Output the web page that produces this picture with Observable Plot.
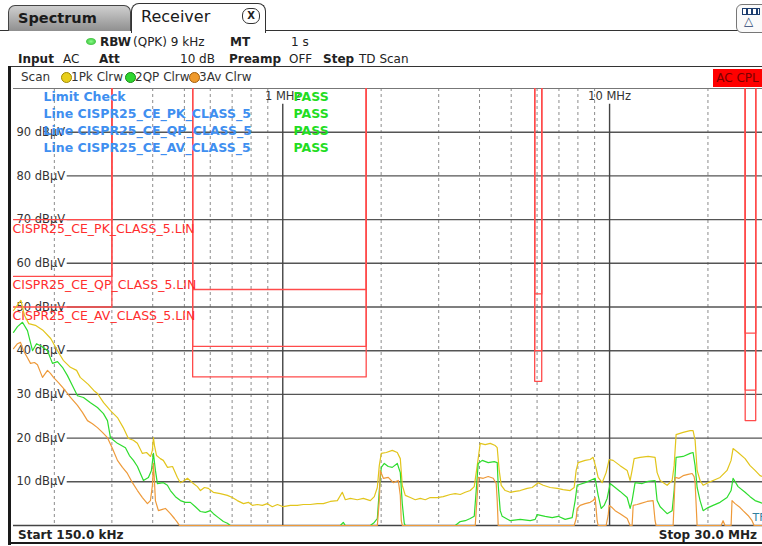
<!DOCTYPE html>
<html><head><meta charset="utf-8">
<script src="https://cdn.jsdelivr.net/npm/d3@7"></script>
<script src="https://cdn.jsdelivr.net/npm/@observablehq/plot@0.6"></script>
<style>
html,body{margin:0;padding:0;background:#fff;}
#wrap{position:relative;width:762px;height:546px;overflow:hidden;font-family:"DejaVu Sans",Verdana,sans-serif;color:#222;background:#fff;}
#chart{position:absolute;left:0;top:0;}
.a{position:absolute;white-space:nowrap;font-size:12px;line-height:14px;}
.b{font-weight:bold;}
.dot{position:absolute;width:9px;height:9px;border-radius:50%;}
</style></head><body>
<div id="wrap">
<div id="chart"></div>
<!-- tab bar -->
<div style="position:absolute;left:0;top:30px;width:762px;height:0;border-top:1.5px solid #333;"></div>
<div style="position:absolute;left:8px;top:5px;width:121px;height:25px;border:1px solid #444;border-bottom:none;border-radius:7px 7px 0 0;background:linear-gradient(#cfcfcf,#8f8f8f);"></div>
<div class="a b" style="left:18px;top:9px;font-size:14.5px;line-height:18px;color:#1a1a1a;">Spectrum</div>
<div style="position:absolute;left:131px;top:3px;width:133px;height:29px;border:1.5px solid #333;border-bottom:none;border-radius:8px 8px 0 0;background:#fff;"></div>
<div class="a" style="left:141px;top:7px;font-size:16px;line-height:20px;color:#1a1a1a;">Receiver</div>
<div style="position:absolute;left:242px;top:8px;width:16px;height:14px;border:1px solid #333;border-radius:7px;font-size:10px;line-height:14px;text-align:center;font-weight:bold;">X</div>
<div style="position:absolute;left:736px;top:4px;width:30px;height:27px;border:1px solid #777;border-radius:6px 0 0 6px;background:#fafafa;"></div>
<div style="position:absolute;left:742px;top:8px;width:16px;height:5px;border:1.5px solid #1c3d6e;background:repeating-linear-gradient(90deg,#fff 0 3px,#1c3d6e 3px 5px);"></div>
<div class="a" style="left:744px;top:14px;font-size:12px;color:#1c3d6e;">△</div>
<!-- info rows -->
<div style="position:absolute;left:86px;top:38px;width:10px;height:7px;border-radius:50%;background:radial-gradient(#8f8,#2a2);"></div>
<div class="a b" style="left:100px;top:35px;">RBW</div>
<div class="a" style="left:133px;top:35px;">(QPK) 9 kHz</div>
<div class="a b" style="left:230px;top:35px;">MT</div>
<div class="a" style="left:291px;top:35px;">1 s</div>
<div class="a b" style="left:18px;top:52px;">Input</div>
<div class="a" style="left:63px;top:52px;">AC</div>
<div class="a b" style="left:99px;top:52px;">Att</div>
<div class="a" style="left:180px;top:52px;">10 dB</div>
<div class="a b" style="left:229px;top:52px;">Preamp</div>
<div class="a" style="left:289px;top:52px;">OFF</div>
<div class="a b" style="left:323px;top:52px;">Step</div>
<div class="a" style="left:359px;top:52px;">TD Scan</div>
<div style="position:absolute;left:8px;top:66px;width:754px;height:0;border-top:1.5px solid #333;"></div>
<!-- scan row -->
<div class="a" style="left:21px;top:70px;color:#333;">Scan</div>
<div class="dot" style="left:61px;top:72px;background:#e8cf1c;border:1px solid #a08a00;"></div>
<div class="a" style="left:71px;top:70px;color:#333;">1Pk Clrw</div>
<div class="dot" style="left:125px;top:72px;background:#2fd62f;border:1px solid #178a17;"></div>
<div class="a" style="left:135px;top:70px;color:#333;">2QP Clrw</div>
<div class="dot" style="left:189px;top:72px;background:#ef9a2c;border:1px solid #a45e0c;"></div>
<div class="a" style="left:199px;top:70px;color:#333;">3Av Clrw</div>
<div class="a" style="left:713px;top:69px;width:49px;height:18px;line-height:18px;background:#ff0000;color:#7a0000;text-align:center;">AC CPL</div>
<!-- frame -->
<div style="position:absolute;left:8px;top:66px;width:3px;height:479px;background:#1a1a1a;"></div>
<div style="position:absolute;left:8px;top:542px;width:754px;height:2px;background:#1a1a1a;"></div>
<div class="a b" style="left:18px;top:528px;">Start 150.0 kHz</div>
<div class="a b" style="right:5px;top:528px;">Stop 30.0 MHz</div>
</div>
<script>
// ---- data ----
const freqTicks = [0.2,0.3,0.4,0.5,0.6,0.7,0.8,0.9,2,3,4,5,6,7,8,9,20];
const decadeTicks = [1,10];
const decadeLabels = ["1 MHz","10 MHz"];
const levelTicks = [10,20,30,40,50,60,70,80,90];

const bandStart = [0.15,0.53,5.9,26];
const bandEnd   = [0.3,1.8,6.2,28];
const pkLimit = [70,54,53,44];
const qpLimit = [57,41,40,31];
const avLimit = [50,34,33,24];
const limitFiles = ["CISPR25_CE_PK_CLASS_5.LIN","CISPR25_CE_QP_CLASS_5.LIN","CISPR25_CE_AV_CLASS_5.LIN"];
const checkLabels = ["Limit Check","Line CISPR25_CE_PK_CLASS_5","Line CISPR25_CE_QP_CLASS_5","Line CISPR25_CE_AV_CLASS_5"];
const checkResults = ["PASS","PASS","PASS","PASS"];

const pkFreq = [0.150,0.158,0.162,0.167,0.175,0.185,0.195,0.2045,0.213,0.224,0.234,0.240,0.254,0.264,0.271,0.283,0.297,0.312,0.325,0.337,0.349,0.359,0.372,0.383,0.394,0.399,0.402,0.405,0.411,0.422,0.431,0.444,0.460,0.476,0.486,0.500,0.511,0.529,0.548,0.560,0.576,0.592,0.613,0.644,0.677,0.701,0.726,0.758,0.785,0.807,0.836,0.866,0.897,0.929,0.963,1.004,1.055,1.108,1.156,1.214,1.276,1.331,1.398,1.469,1.521,1.554,1.610,1.691,1.764,1.853,1.906,1.947,1.974,2.002,2.074,2.163,2.241,2.289,2.321,2.371,2.456,2.544,2.635,2.729,2.827,2.970,3.098,3.255,3.371,3.492,3.617,3.747,3.854,3.936,4.020,4.164,4.313,4.468,4.531,4.595,4.661,4.794,4.965,5.143,5.328,5.597,5.797,6.047,6.264,6.581,6.913,7.211,7.576,7.792,7.903,8.015,8.420,8.721,8.907,9.098,9.227,9.490,9.761,9.970,10.25,10.77,11.32,11.56,11.72,11.89,12.40,13.12,13.78,13.98,14.28,15.00,15.54,15.76,15.98,16.79,17.64,18.01,18.27,18.53,18.92,19.33,20.02,20.74,21.78,22.88,23.54,23.87,24.73,25.98,26.91,27.87,28.87,29.91];
const pkLevel = [49.2,51.5,48.1,46.2,45.8,44.6,42.8,40.0,37.8,36.2,35.5,33.9,32.3,30.9,30.2,28.1,26.3,24.7,22.4,19.9,19.5,18.8,16.5,16.7,15.8,17.2,20.1,18.3,16.0,15.3,14.9,13.3,13.5,11.0,9.8,10.3,10.8,9.8,8.9,8.0,8.7,8.5,7.6,7.3,6.9,6.4,5.7,5.0,5.3,4.6,4.8,4.6,5.0,4.3,4.8,4.3,4.6,4.6,4.8,4.8,5.0,5.0,5.5,5.7,7.6,5.9,6.2,5.9,6.2,5.7,6.6,8.7,13.7,16.5,16.7,17.2,16.7,15.3,9.2,6.9,6.4,5.9,6.2,5.9,6.4,6.4,6.6,7.1,7.3,7.1,7.6,8.0,8.9,13.7,18.8,18.5,18.8,18.3,17.8,12.6,9.2,8.0,7.6,7.8,8.0,8.5,8.7,9.8,9.2,8.7,8.5,8.2,8.0,8.7,12.6,14.4,14.9,15.1,15.6,13.0,11.0,9.8,12.1,15.1,14.9,13.7,12.6,10.3,12.6,15.3,15.6,15.8,15.6,12.1,10.3,9.2,10.3,13.7,20.8,21.3,21.7,21.7,19.5,12.6,10.3,9.2,9.8,10.3,11.0,12.6,14.9,17.6,16.7,15.3,13.7,12.6,11.4,11.0];

const qpFreq = [0.150,0.1543,0.1598,0.1655,0.1715,0.1764,0.1827,0.1906,0.1974,0.2045,0.2118,0.2194,0.2273,0.2354,0.2456,0.2580,0.2710,0.2827,0.2908,0.2970,0.3120,0.3301,0.3395,0.3492,0.3592,0.3668,0.3747,0.3881,0.3964,0.4020,0.4077,0.4135,0.4313,0.4436,0.4531,0.4694,0.4862,0.5036,0.5216,0.5403,0.5597,0.5798,0.6005,0.6134,0.6353,0.6581,0.6769,0.6914,1.500,1.532,1.554,1.853,1.906,1.947,1.974,2.002,2.045,2.103,2.163,2.241,2.289,2.321,2.354,2.371,3.371,3.492,3.617,3.747,3.854,3.908,3.964,4.077,4.253,4.436,4.531,4.563,4.628,4.693,4.965,5.328,5.716,5.921,6.005,6.353,6.674,6.962,7.312,7.683,7.847,7.958,8.420,8.721,9.034,9.227,9.423,9.625,9.830,10.04,10.40,10.77,11.32,11.56,11.72,11.97,12.58,13.12,13.78,13.98,14.28,15.00,15.54,15.76,15.98,16.79,17.64,18.01,18.27,18.53,18.92,19.33,20.02,20.74,21.78,22.88,23.54,23.87,24.73,25.98,26.91,27.87,28.87,29.91];
const qpLevel = [44.2,45.5,46.5,44.6,40.0,41.6,41.0,40.0,37.1,37.5,36.2,34.3,32.0,29.7,29.3,28.1,27.0,25.6,24.0,20.1,18.8,17.8,16.0,14.9,13.5,11.9,10.3,11.0,12.6,16.5,12.6,9.6,9.8,9.2,8.0,6.6,5.7,5.3,5.3,4.3,3.2,3.0,3.4,2.7,1.8,0.9,0.5,0,0,0.7,0,0,0.7,1.6,8.0,13.3,14.2,13.5,13.3,14.2,12.1,5.0,0.5,0,0,0.9,1.1,1.6,2.1,8.0,14.2,14.9,14.4,14.6,14.4,9.2,3.4,2.1,1.1,1.4,1.1,1.4,2.5,2.1,1.8,2.1,1.4,1.8,5.7,9.2,9.8,10.3,10.8,6.9,3.9,4.6,6.2,9.6,8.7,7.8,6.4,3.9,5.7,9.8,9.6,10.1,10.3,5.7,4.3,2.7,3.4,8.0,15.6,15.8,16.5,16.7,13.7,8.7,5.7,3.4,4.1,4.6,5.3,6.4,8.0,10.8,8.9,7.6,6.6,5.7,5.3,4.8];

const avFreq = [0.150,0.1543,0.1576,0.1609,0.1655,0.1691,0.1739,0.1776,0.1840,0.1906,0.1946,0.1988,0.2059,0.2133,0.2241,0.2354,0.2438,0.2526,0.2616,0.2710,0.2807,0.2908,0.3012,0.3120,0.3232,0.3347,0.3467,0.3592,0.3720,0.3854,0.3936,0.3992,0.4020,0.4048,0.4077,0.4164,0.4283,0.4374,0.4531,0.4661,0.4760,0.4828,1.947,1.974,1.988,2.031,2.103,2.179,2.257,2.289,2.305,2.321,3.881,3.936,3.964,4.106,4.253,4.405,4.499,4.531,4.563,7.792,7.903,7.958,8.128,8.420,8.721,8.907,9.034,9.162,9.227,9.761,9.900,9.970,10.18,10.40,10.77,11.32,11.56,11.72,11.81,12.14,12.40,13.03,13.59,13.78,13.88,15.65,15.87,16.32,16.79,17.39,17.89,18.14,18.27,18.53,21.94,22.25,22.56,23.54,23.70,24.21,25.08,25.61,26.53,27.29,27.68,29.91];
const avLevel = [40.5,41.6,41.9,40.0,38.4,37.1,37.3,36.8,33.9,35.5,34.8,33.9,32.7,31.4,29.3,27.5,25.9,24.0,23.3,22.4,21.3,20.1,17.6,14.9,13.3,11.9,9.8,8.0,6.4,5.0,5.7,9.2,14.2,10.3,5.7,3.4,3.7,3.9,2.7,1.6,0.7,0,0,5.7,12.6,10.8,11.0,9.8,10.3,6.9,1.1,0,0,6.9,11.0,10.8,11.2,10.8,9.6,5.7,0,0,1.6,3.9,4.6,5.0,5.3,5.7,6.4,1.1,0,0,2.3,4.6,4.1,3.4,2.7,1.6,0,0,4.6,4.8,5.0,5.5,5.7,1.1,0,0,11.0,10.8,11.4,11.7,11.9,11.2,9.8,0,0,1.1,0,0,5.7,5.0,4.1,3.4,2.3,1.1,0,0];

// ---- build tables ----
const series = (f, v) => f.map((d, i) => ({f: d, v: v[i]}));
const OFF = 150; // above the display: limit undefined outside its bands
function limitPath(levels) {
  const pts = [];
  levels.forEach((v, i) => {
    if (i > 0) pts.push({f: bandStart[i], v: OFF});
    pts.push({f: bandStart[i], v}, {f: bandEnd[i], v}, {f: bandEnd[i], v: OFF});
  });
  return pts;
}
const limits = [pkLimit, qpLimit, avLimit];
const limitColor = "#ff4b4b";
const font = "DejaVu Sans, Verdana, sans-serif";

const marks = [
  Plot.ruleX(freqTicks, {stroke: "#8c8c8c", strokeDasharray: "3,3", strokeWidth: 1}),
  Plot.ruleY(levelTicks, {x1: 0.219, x2: 30, stroke: "#555", strokeWidth: 1.4}),
  Plot.ruleY([0], {stroke: "#444", strokeWidth: 1.5}),
  Plot.ruleY([100], {stroke: "#777", strokeWidth: 1}),
  Plot.ruleX(decadeTicks, {y1: 0, y2: 96.4, stroke: "#444", strokeWidth: 1.4}),
  Plot.text(decadeTicks, {x: d => d, y: 100, dy: 8, text: (d, i) => decadeLabels[i], fill: "#333", fontSize: 11.5, textAnchor: "middle", lineAnchor: "middle"}),
  Plot.text(levelTicks, {x: 0.15, y: d => d, dx: 3, text: d => `${d} dBµV`, fill: "#333", fontSize: 11.5, textAnchor: "start", lineAnchor: "middle"}),
  ...limits.map(l => Plot.line(limitPath(l), {x: "f", y: "v", stroke: limitColor, strokeWidth: 1.3, clip: true})),
  ...limits.map((l, i) => Plot.text([l[0]], {x: 0.15, y: d => d, dy: 9, text: () => limitFiles[i], fill: "#ff2d2d", fontSize: 12.5, textAnchor: "start", lineAnchor: "middle", dx: -1})),
  Plot.line(series(pkFreq, pkLevel), {x: "f", y: "v", stroke: "#e2c51c", strokeWidth: 1.2}),
  Plot.line(series(qpFreq, qpLevel), {x: "f", y: "v", stroke: "#2edc2e", strokeWidth: 1.2}),
  Plot.line(series(avFreq, avLevel), {x: "f", y: "v", stroke: "#ee9a3a", strokeWidth: 1.2}),
  ...checkLabels.map((t, i) => Plot.text([t], {frameAnchor: "top-left", dx: 30, dy: 8 + 17 * i, text: d => d, fill: "#3f8ff0", fontWeight: "bold", fontSize: 12.5, textAnchor: "start", lineAnchor: "middle"})),
  ...checkResults.map((t, i) => Plot.text([t], {frameAnchor: "top-left", dx: 280, dy: 8 + 17 * i, text: d => d, fill: "#22dd22", fontWeight: "bold", fontSize: 12.5, textAnchor: "start", lineAnchor: "middle"})),
  Plot.text(["TF"], {frameAnchor: "bottom-right", dx: -10, dy: -8, text: d => d, fill: "#2f7f9f", fontSize: 11, textAnchor: "start", lineAnchor: "middle"})
];

const chart = Plot.plot({
  width: 762, height: 546,
  marginTop: 88, marginBottom: 21, marginLeft: 13, marginRight: 0,
  x: {type: "log", domain: [0.15, 30], range: [13, 765], axis: null},
  y: {domain: [0, 100], axis: null},
  style: {fontFamily: font, fontSize: "12px", background: "transparent", overflow: "visible"},
  marks
});
document.getElementById("chart").appendChild(chart);
</script>
</body></html>
